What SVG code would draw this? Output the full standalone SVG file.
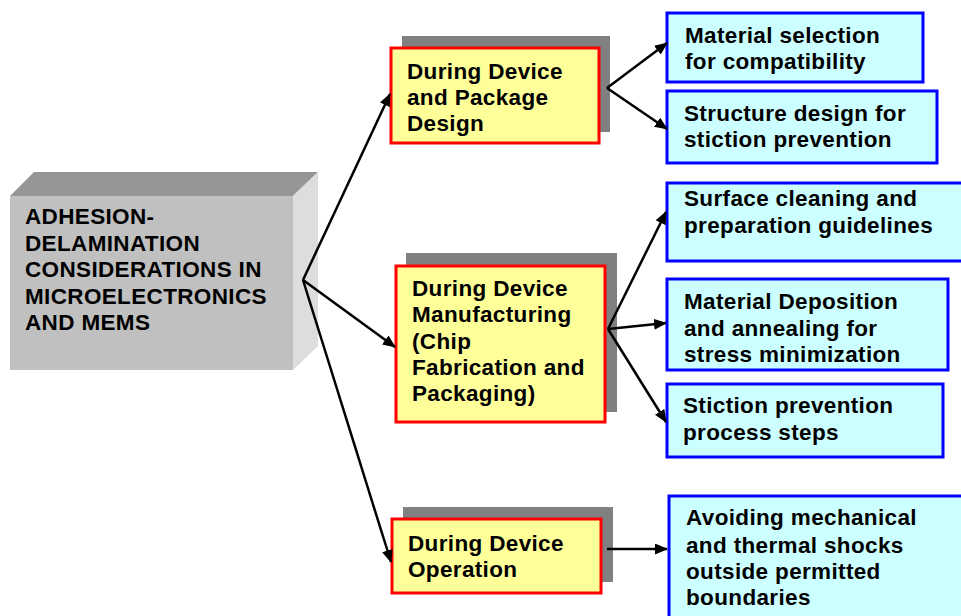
<svg xmlns="http://www.w3.org/2000/svg" width="961" height="616" viewBox="0 0 961 616">
<defs>
<style>
text{font-family:"Liberation Sans",Arial,Helvetica,sans-serif;font-weight:bold;font-size:22.5px;letter-spacing:0.35px;fill:#000}
.shadow{fill:#808080}
.yellow{fill:#ffff99;stroke:#ff0000;stroke-width:3}
.blue{fill:#ccffff;stroke:#0000ff;stroke-width:3}
.conn{stroke:#000;stroke-width:2.5;fill:none;marker-end:url(#arr)}
</style>
<marker id="arr" markerWidth="13" markerHeight="11" refX="12" refY="5.5" orient="auto" markerUnits="userSpaceOnUse">
<path d="M0,0 L13,5.5 L0,11 Z" fill="#000"/>
</marker>
</defs>
<rect width="961" height="616" fill="#fff"/>

<g id="main">
<polygon points="10,196 34,172 318,172 293,196" fill="#969696"/>
<polygon points="293,196 318,172 318,346 293,370" fill="#dddddd"/>
<rect x="10" y="196" width="283" height="174" fill="#c0c0c0"/>
<text x="25" y="224">ADHESION-</text>
<text x="25" y="250.5">DELAMINATION</text>
<text x="25" y="277">CONSIDERATIONS IN</text>
<text x="25" y="303.5">MICROELECTRONICS</text>
<text x="25" y="330">AND MEMS</text>
</g>

<g id="design">
<rect class="shadow" x="402" y="36" width="208" height="96"/>
<rect class="yellow" x="391" y="48" width="208" height="95"/>
<text x="407" y="79">During Device</text>
<text x="407" y="105">and Package</text>
<text x="407" y="131">Design</text>
</g>

<g id="manufacturing">
<rect class="shadow" x="406" y="253" width="211" height="159"/>
<rect class="yellow" x="396" y="266" width="209" height="156"/>
<text x="412" y="296">During Device</text>
<text x="412" y="322">Manufacturing</text>
<text x="412" y="348.5">(Chip</text>
<text x="412" y="375">Fabrication and</text>
<text x="412" y="401">Packaging)</text>
</g>

<g id="operation">
<rect class="shadow" x="403" y="507" width="210" height="75"/>
<rect class="yellow" x="392" y="519" width="209" height="74"/>
<text x="408" y="551">During Device</text>
<text x="408" y="577">Operation</text>
</g>

<g id="b1">
<rect class="blue" x="667" y="13" width="256" height="69"/>
<text x="685" y="43">Material selection</text>
<text x="685" y="69">for compatibility</text>
</g>
<g id="b2">
<rect class="blue" x="667" y="91" width="270" height="72"/>
<text x="684" y="121">Structure design for</text>
<text x="684" y="147">stiction prevention</text>
</g>
<g id="b3">
<rect class="blue" x="667" y="183" width="300" height="78"/>
<text x="684" y="206">Surface cleaning and</text>
<text x="684" y="233">preparation guidelines</text>
</g>
<g id="b4">
<rect class="blue" x="667" y="279" width="281" height="91"/>
<text x="684" y="309">Material Deposition</text>
<text x="684" y="335.5">and annealing for</text>
<text x="684" y="362">stress minimization</text>
</g>
<g id="b5">
<rect class="blue" x="667" y="384" width="276" height="73"/>
<text x="683" y="413">Stiction prevention</text>
<text x="683" y="440">process steps</text>
</g>
<g id="b6">
<rect class="blue" x="669" y="496" width="300" height="130"/>
<text x="686" y="525">Avoiding mechanical</text>
<text x="686" y="553">and thermal shocks</text>
<text x="686" y="579">outside permitted</text>
<text x="686" y="605">boundaries</text>
</g>

<g id="connectors">
<line class="conn" x1="303" y1="280" x2="390" y2="94"/>
<line class="conn" x1="303" y1="280" x2="395" y2="347"/>
<line class="conn" x1="303" y1="280" x2="391" y2="562"/>
<line class="conn" x1="607" y1="88" x2="667" y2="43"/>
<line class="conn" x1="607" y1="88" x2="667" y2="129"/>
<line class="conn" x1="608" y1="329" x2="666" y2="212"/>
<line class="conn" x1="608" y1="329" x2="666" y2="323"/>
<line class="conn" x1="608" y1="329" x2="666" y2="422"/>
<line class="conn" x1="607" y1="549" x2="667" y2="549"/>
</g>
</svg>
